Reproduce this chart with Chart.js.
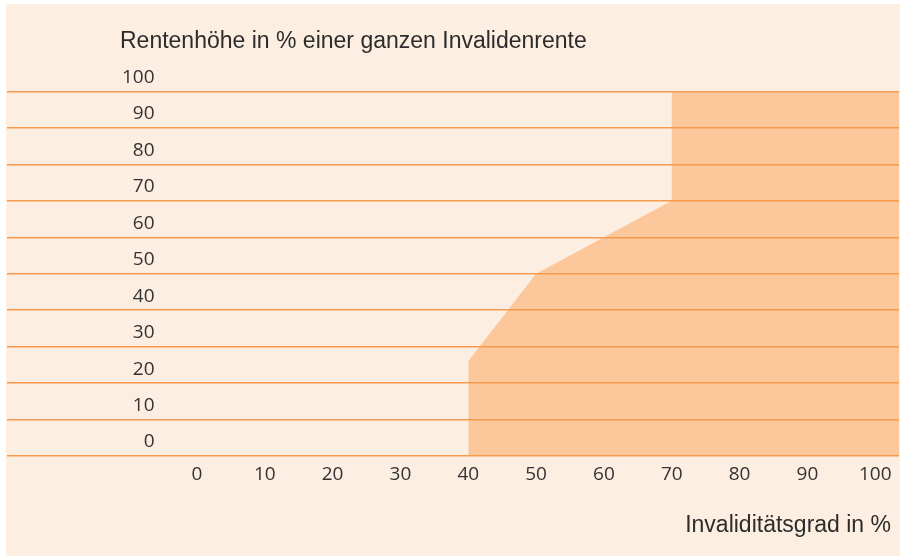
<!DOCTYPE html>
<html>
<head>
<meta charset="utf-8">
<script src="https://cdn.jsdelivr.net/npm/chart.js@4.4.1/dist/chart.umd.min.js"></script>
<style>
  html, body { margin: 0; padding: 0; background: #ffffff; }
  canvas { display: block; }
</style>
</head>
<body>
<canvas id="c" width="904" height="556"></canvas>
<script>
// ---- data ----
const X_TICKS = [0, 10, 20, 30, 40, 50, 60, 70, 80, 90, 100];
const Y_TICKS = [0, 10, 20, 30, 40, 50, 60, 70, 80, 90, 100];
const X_MIN = -28.0;
const X_MAX = 103.5;
const INVALIDITY = [40, 40, 50, 70, 70, X_MAX];   // Invaliditätsgrad in %
const PENSION    = [0, 26, 50, 70, 100, 100];     // Rentenhöhe in %
const Y_TITLE = 'Rentenhöhe in % einer ganzen Invalidenrente';
const X_TITLE = 'Invaliditätsgrad in %';

const BG = '#fdeee2';
const FILL = '#fbc79b';
const GRID = '#f69a4e';
const TEXT = '#333333';

const points = INVALIDITY.map((x, i) => ({ x: x, y: PENSION[i] }));

const bgPlugin = {
  id: 'bg',
  beforeDraw(chart) {
    const ctx = chart.ctx;
    ctx.save();
    ctx.fillStyle = BG;
    ctx.fillRect(6, 4, 894, 552);
    ctx.restore();
  }
};

const titlesPlugin = {
  id: 'titles',
  afterDraw(chart) {
    const ctx = chart.ctx;
    ctx.save();
    ctx.fillStyle = '#2c2c2c';
    ctx.font = '23px "Liberation Sans", Arial, sans-serif';
    ctx.textBaseline = 'alphabetic';
    ctx.textAlign = 'left';
    ctx.fillText(Y_TITLE, 120, 47.5);
    ctx.textAlign = 'right';
    ctx.fillText(X_TITLE, 891, 532);
    ctx.restore();
  }
};

new Chart(document.getElementById('c'), {
  type: 'line',
  data: {
    datasets: [{
      data: points,
      borderWidth: 0,
      borderColor: 'rgba(0,0,0,0)',
      backgroundColor: FILL,
      fill: 'origin',
      pointRadius: 0,
      tension: 0
    }]
  },
  options: {
    responsive: false,
    devicePixelRatio: 1,
    animation: false,
    layout: { padding: { left: 7, right: 5, top: 91.5, bottom: 0 } },
    plugins: {
      legend: { display: false },
      tooltip: { enabled: false },
      title: { display: false }
    },
    scales: {
      x: {
        type: 'linear',
        min: X_MIN,
        max: X_MAX,
        afterBuildTicks(scale) { scale.ticks = X_TICKS.map(v => ({ value: v })); },
        afterFit(scale) { scale.height = 100; scale.paddingLeft = 0; scale.paddingRight = 0; },
        grid: { display: false, drawTicks: false },
        border: { display: false },
        ticks: {
          autoSkip: false,
          maxRotation: 0,
          padding: 7,
          color: TEXT,
          font: { family: '"Open Sans", sans-serif', size: 19 }
        }
      },
      y: {
        type: 'linear',
        min: 0,
        max: 100,
        z: 1,
        afterBuildTicks(scale) { scale.ticks = Y_TICKS.map(v => ({ value: v })); },
        afterFit(scale) { scale.width = 0; scale.paddingTop = 0; scale.paddingBottom = 0; },
        grid: { color: GRID, lineWidth: 1.5, drawTicks: false, z: 1 },
        border: { display: false },
        ticks: {
          mirror: true,
          crossAlign: 'far',
          padding: 115,
          labelOffset: -14,
          color: TEXT,
          font: { family: '"Open Sans", sans-serif', size: 19 }
        }
      }
    }
  },
  plugins: [bgPlugin, titlesPlugin]
});
</script>
</body>
</html>
